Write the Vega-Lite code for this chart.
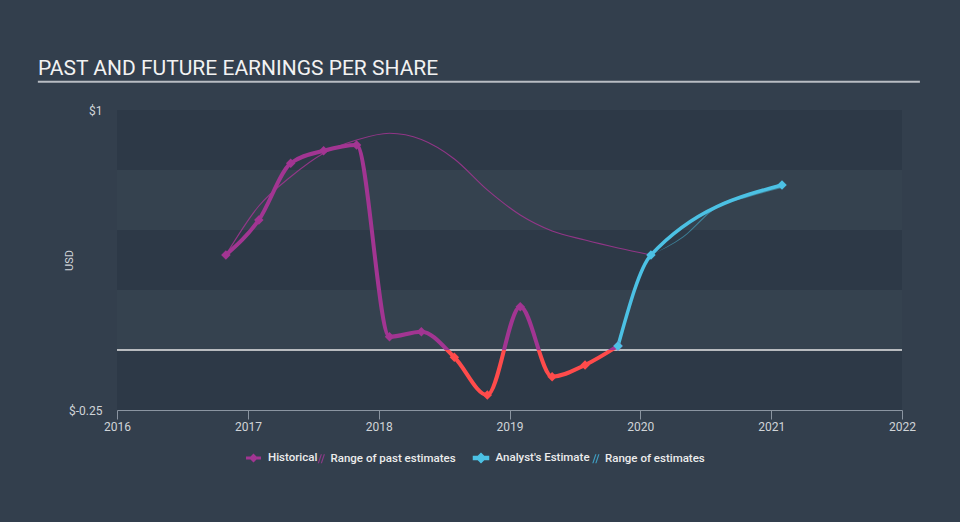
{
  "$schema": "https://vega.github.io/schema/vega-lite/v6.json",
  "width": 785,
  "height": 300,
  "autosize": "none",
  "padding": {"left": 117, "top": 110, "right": 58, "bottom": 112},
  "background": "#333f4d",
  "config": {
    "view": {"stroke": null, "fill": "#35424f"},
    "font": "Roboto",
    "legend": {
      "orient": "none", "direction": "horizontal", "title": null, "padding": 0,
      "labelColor": "#ececec", "labelFont": "Roboto", "labelFontSize": 11.5, "labelFontWeight": 500,
      "symbolOpacity": 1
    }
  },
  "title": {
    "text": "PAST AND FUTURE EARNINGS PER SHARE",
    "anchor": "start",
    "frame": "group",
    "dx": -79,
    "offset": 2,
    "fontSize": 21,
    "fontWeight": "normal",
    "font": "Roboto",
    "color": "#f2f2f2"
  },
  "datasets": {
    "one": [{}],
    "leg1": [{"series": "Historical"}],
    "leg2": [{"series": "Range of past estimates"}],
    "leg3": [{"series": "Analyst's Estimate"}],
    "leg4": [{"series": "Range of estimates"}],
    "bands": [
      {"top": 1, "bottom": 0.75},
      {"top": 0.5, "bottom": 0.25},
      {"top": 0, "bottom": -0.25}
    ],
    "hist": [
      {"date": "2016-10-31", "eps": 0.396},
      {"date": "2017-01-31", "eps": 0.542},
      {"date": "2017-04-30", "eps": 0.778},
      {"date": "2017-07-31", "eps": 0.83},
      {"date": "2017-10-31", "eps": 0.854},
      {"date": "2018-01-31", "eps": 0.055},
      {"date": "2018-04-30", "eps": 0.076},
      {"date": "2018-07-31", "eps": -0.03},
      {"date": "2018-10-31", "eps": -0.1875},
      {"date": "2019-01-31", "eps": 0.18},
      {"date": "2019-04-30", "eps": -0.111},
      {"date": "2019-07-31", "eps": -0.0625},
      {"date": "2019-10-31", "eps": 0.017}
    ],
    "past_range": [
      {"date": "2016-10-31", "eps": 0.396},
      {"date": "2017-01-31", "eps": 0.6},
      {"date": "2017-04-30", "eps": 0.722},
      {"date": "2017-07-31", "eps": 0.82},
      {"date": "2017-10-31", "eps": 0.875},
      {"date": "2018-01-31", "eps": 0.903},
      {"date": "2018-04-30", "eps": 0.877},
      {"date": "2018-07-31", "eps": 0.796},
      {"date": "2018-10-31", "eps": 0.667},
      {"date": "2019-01-31", "eps": 0.5625},
      {"date": "2019-04-30", "eps": 0.496},
      {"date": "2019-07-31", "eps": 0.458},
      {"date": "2019-10-31", "eps": 0.425},
      {"date": "2020-01-31", "eps": 0.396}
    ],
    "analyst": [
      {"date": "2019-10-31", "eps": 0.017},
      {"date": "2020-01-31", "eps": 0.396},
      {"date": "2021-01-31", "eps": 0.6875}
    ],
    "analyst_range": [
      {"date": "2020-01-31", "low": 0.396, "high": 0.396},
      {"date": "2020-04-30", "low": 0.469, "high": 0.474},
      {"date": "2020-07-31", "low": 0.591, "high": 0.599},
      {"date": "2020-10-31", "low": 0.638, "high": 0.65},
      {"date": "2021-01-31", "low": 0.675, "high": 0.69}
    ]
  },
  "layer": [
    {
      "data": {"name": "bands"},
      "mark": {"type": "rect", "color": "#2d3947"},
      "encoding": {
        "y": {"field": "top", "type": "quantitative", "scale": {"domain": [-0.25, 1], "nice": false, "zero": false},
          "axis": {
            "values": [-0.25, 1],
            "labelExpr": "'$' + datum.value",
            "domain": false, "ticks": false, "grid": false,
            "labelColor": "#d0d4d8", "labelFontSize": 12, "labelPadding": 15, "labelFlush": false,
            "title": "USD", "titleColor": "#d0d4d8", "titleFontSize": 11, "titleFontWeight": "normal",
            "titleX": -48, "titleY": 150, "titleAngle": 270, "titleAlign": "center", "titleBaseline": "middle"
          }
        },
        "y2": {"field": "bottom"}
      }
    },
    {
      "data": {"name": "one"},
      "mark": {"type": "rule", "color": "#e6e6e6", "strokeWidth": 1.3},
      "encoding": {"y": {"datum": 0, "type": "quantitative"}}
    },
    {
      "data": {"name": "one"},
      "mark": {"type": "rule", "color": "#b9bdc3", "strokeWidth": 2},
      "encoding": {
        "x": {"datum": {"year": 2015, "month": 5, "date": 25, "utc": true}, "type": "temporal"},
        "x2": {"datum": {"year": 2022, "month": 2, "date": 20, "utc": true}},
        "y": {"datum": 1.118, "type": "quantitative"}
      }
    },
    {
      "data": {"name": "past_range"},
      "mark": {"type": "line", "interpolate": "monotone", "strokeWidth": 1.1, "color": "#a23592", "opacity": 0.85},
      "encoding": {
        "x": {"field": "date", "type": "temporal",
          "scale": {"type": "utc", "domain": [{"year": 2016, "month": 1, "date": 1, "utc": true}, {"year": 2022, "month": 1, "date": 1, "utc": true}]},
          "axis": {
            "values": [
              {"year": 2016, "month": 1, "date": 1, "utc": true},
              {"year": 2017, "month": 1, "date": 1, "utc": true},
              {"year": 2018, "month": 1, "date": 1, "utc": true},
              {"year": 2019, "month": 1, "date": 1, "utc": true},
              {"year": 2020, "month": 1, "date": 1, "utc": true},
              {"year": 2021, "month": 1, "date": 1, "utc": true},
              {"year": 2022, "month": 1, "date": 1, "utc": true}
            ],
            "format": "%Y", "grid": false, "title": null,
            "domainColor": "#8b95a1", "tickColor": "#8b95a1", "tickSize": 9,
            "labelColor": "#d0d4d8", "labelFontSize": 12, "labelPadding": 2, "labelFlush": false
          }
        },
        "y": {"field": "eps", "type": "quantitative"}
      }
    },
    {
      "data": {"name": "analyst_range"},
      "mark": {"type": "area", "interpolate": "monotone", "color": "#4cc1e4", "opacity": 0.5},
      "encoding": {
        "x": {"field": "date", "type": "temporal"},
        "y": {"field": "low", "type": "quantitative"},
        "y2": {"field": "high"}
      }
    },
    {
      "data": {"name": "hist"},
      "mark": {
        "type": "line", "interpolate": "monotone", "strokeWidth": 4,
        "stroke": {
          "gradient": "linear", "x1": 0, "y1": 0, "x2": 0, "y2": 1,
          "stops": [
            {"offset": 0, "color": "#a23592"},
            {"offset": 0.82, "color": "#a23592"},
            {"offset": 0.82, "color": "#ff4b4b"},
            {"offset": 1, "color": "#ff4b4b"}
          ]
        }
      },
      "encoding": {
        "x": {"field": "date", "type": "temporal"},
        "y": {"field": "eps", "type": "quantitative"}
      }
    },
    {
      "data": {"name": "analyst"},
      "mark": {"type": "line", "interpolate": "monotone", "strokeWidth": 3.5, "color": "#4cc1e4"},
      "encoding": {
        "x": {"field": "date", "type": "temporal"},
        "y": {"field": "eps", "type": "quantitative"}
      }
    },
    {
      "data": {"name": "hist"},
      "mark": {"type": "point", "shape": "diamond", "filled": true, "size": 90, "opacity": 1},
      "encoding": {
        "x": {"field": "date", "type": "temporal"},
        "y": {"field": "eps", "type": "quantitative"},
        "color": {"condition": {"test": "datum.eps < 0", "value": "#ff4b4b"}, "value": "#a23592"}
      }
    },
    {
      "data": {"name": "analyst"},
      "mark": {"type": "point", "shape": "diamond", "filled": true, "size": 90, "opacity": 1, "color": "#4cc1e4"},
      "encoding": {
        "x": {"field": "date", "type": "temporal"},
        "y": {"field": "eps", "type": "quantitative"}
      }
    },
    {
      "data": {"name": "leg1"},
      "mark": {"type": "point", "clip": true, "filled": true, "shape": "M-1,-0.2L-0.4,-0.2L0,-0.6L0.4,-0.2L1,-0.2L1,0.2L0.4,0.2L0,0.6L-0.4,0.2L-1,0.2Z", "size": 225},
      "encoding": {
        "x": {"datum": {"year": 2010, "month": 1, "date": 1, "utc": true}, "type": "temporal"},
        "y": {"datum": 0, "type": "quantitative"},
        "color": {"field": "series", "type": "nominal",
          "scale": {"domain": ["Historical"], "range": ["#a23592"]},
          "legend": {"legendX": 128, "legendY": 339.5, "symbolType": "M-1,-0.2L-0.4,-0.2L0,-0.6L0.4,-0.2L1,-0.2L1,0.2L0.4,0.2L0,0.6L-0.4,0.2L-1,0.2Z", "symbolSize": 225, "labelOffset": 6}
        }
      }
    },
    {
      "data": {"name": "leg2"},
      "mark": {"type": "point", "clip": true, "filled": true, "shape": "M-0.75,1.1L-0.45,1.1L0.3,-1.1L0,-1.1Z M0,1.1L0.3,1.1L1.05,-1.1L0.75,-1.1Z", "size": 64},
      "encoding": {
        "x": {"datum": {"year": 2010, "month": 1, "date": 1, "utc": true}, "type": "temporal"},
        "y": {"datum": 0, "type": "quantitative"},
        "fill": {"field": "series", "type": "nominal",
          "scale": {"domain": ["Range of past estimates"], "range": ["#8c3a88"]},
          "legend": {"legendX": 198, "legendY": 343, "symbolType": "M-0.75,1.1L-0.45,1.1L0.3,-1.1L0,-1.1Z M0,1.1L0.3,1.1L1.05,-1.1L0.75,-1.1Z", "symbolSize": 64, "labelOffset": 4}
        }
      }
    },
    {
      "data": {"name": "leg3"},
      "mark": {"type": "point", "clip": true, "filled": true, "shape": "M-1,-0.2L-0.4,-0.2L0,-0.6L0.4,-0.2L1,-0.2L1,0.2L0.4,0.2L0,0.6L-0.4,0.2L-1,0.2Z", "size": 225, "color": "#4cc1e4"},
      "encoding": {
        "x": {"datum": {"year": 2010, "month": 1, "date": 1, "utc": true}, "type": "temporal"},
        "y": {"datum": 0, "type": "quantitative"},
        "stroke": {"field": "series", "type": "nominal",
          "scale": {"domain": ["Analyst's Estimate"], "range": ["#4cc1e4"]},
          "legend": {"legendX": 355.5, "legendY": 339.5, "symbolType": "M-1,-0.2L-0.4,-0.2L0,-0.6L0.4,-0.2L1,-0.2L1,0.2L0.4,0.2L0,0.6L-0.4,0.2L-1,0.2Z", "symbolSize": 225, "symbolFillColor": "#4cc1e4", "labelOffset": 6}
        }
      }
    },
    {
      "data": {"name": "leg4"},
      "mark": {"type": "point", "clip": true, "filled": true, "size": 64, "color": "#3f9fc2"},
      "encoding": {
        "x": {"datum": {"year": 2010, "month": 1, "date": 1, "utc": true}, "type": "temporal"},
        "y": {"datum": 0, "type": "quantitative"},
        "shape": {"field": "series", "type": "nominal",
          "scale": {"domain": ["Range of estimates"], "range": ["M-0.75,1.1L-0.45,1.1L0.3,-1.1L0,-1.1Z M0,1.1L0.3,1.1L1.05,-1.1L0.75,-1.1Z"]},
          "legend": {"legendX": 472.5, "legendY": 343, "symbolSize": 64, "symbolFillColor": "#3f9fc2", "labelOffset": 4}
        }
      }
    }
  ]
}
